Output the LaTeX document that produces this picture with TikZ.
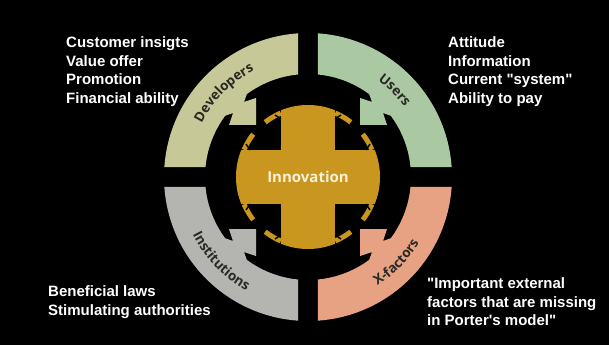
\documentclass[tikz,border=0pt]{standalone}
\usepackage{fontspec}
\setmainfont{Liberation Sans}
\newfontfamily\ringfont{Open Sans}
\usetikzlibrary{decorations.text}
\definecolor{devcol}{RGB}{199,200,152}
\definecolor{usercol}{RGB}{170,201,163}
\definecolor{instcol}{RGB}{180,180,177}
\definecolor{xcol}{RGB}{231,162,131}
\definecolor{innocol}{RGB}{201,150,32}
\definecolor{ringtext}{RGB}{40,40,36}
\definecolor{innotext}{RGB}{248,240,215}
\begin{document}
\begin{tikzpicture}[x=1pt, y=1pt,
   outtext/.style={text=white, font=\bfseries\fontsize{15}{18.5}\selectfont, align=left, inner sep=0pt, anchor=north west},
   ringlabel/.style={decorate, decoration={text along path, text align=center, text={|\ringfont\bfseries\fontsize{13.5}{14}\selectfont\color{ringtext}|#1}}}]
   \fill[black] (-308,-168) rectangle (301,177);
   \useasboundingbox (-308,-168) rectangle (301,177);
   % the middle: a circle with four notches
   \fill[innocol] (0,0) circle[radius=72];
   \foreach \a in {0, 90, 180, 270}{
      \begin{scope}[rotate=\a]
         \fill[black] (27,27) rectangle (80,80);
         \draw[innocol, line width=5pt] (67:69.5) arc[start angle=67, end angle=52, radius=69.5] (23:69.5) arc[start angle=23, end angle=38, radius=69.5];
         \draw[black, line width=1.5pt] (27,58) -- (33,62) (58,27) -- (62,33);
      \end{scope}
   }
   \node[text=innotext, font=\ringfont\bfseries\fontsize{15}{16}\selectfont] (innovation) at (0,0) {Innovation};
   % the four quarters of the ring, each with an arrow to the middle
   \foreach \a/\col in {0/usercol, 90/devcol, 180/instcol, 270/xcol}{
      \begin{scope}[rotate=\a]
         \path[fill=\col] (3.98:144) arc[start angle=3.98, end angle=86.02, radius=144] -- (84.43:103) arc[start angle=84.43, end angle=5.57, radius=103] -- cycle
            (52,52) -- (79,52) -- (75,64) -- (89,59) -- (59,89) -- (64,75) -- (52,79) -- cycle;
      \end{scope}
   }
   % labels on the ring
   \path[ringlabel=Developers] (172:119) arc[start angle=172, end angle=98, radius=119];
   \path[ringlabel=Users] (82:119) arc[start angle=82, end angle=8, radius=119];
   \path[ringlabel=Institutions] (187:129) arc[start angle=187, end angle=261, radius=129];
   \path[ringlabel=X-factors] (279:129) arc[start angle=279, end angle=353, radius=129];
   % texts round the ring
   \node[outtext] (devtext) at (-242,140.5) {Customer insigts\\Value offer\\Promotion\\Financial ability};
   \node[outtext] (usertext) at (140,140.5) {Attitude\\Information\\Current \textquotedbl system\textquotedbl\\Ability to pay};
   \node[outtext] (insttext) at (-260,-108.5) {Beneficial laws\\Stimulating authorities};
   \node[outtext] (xtext) at (119,-100.5) {\textquotedbl Important external\\factors that are missing\\in Porter\textquotesingle s model\textquotedbl};
\end{tikzpicture}
\end{document}
